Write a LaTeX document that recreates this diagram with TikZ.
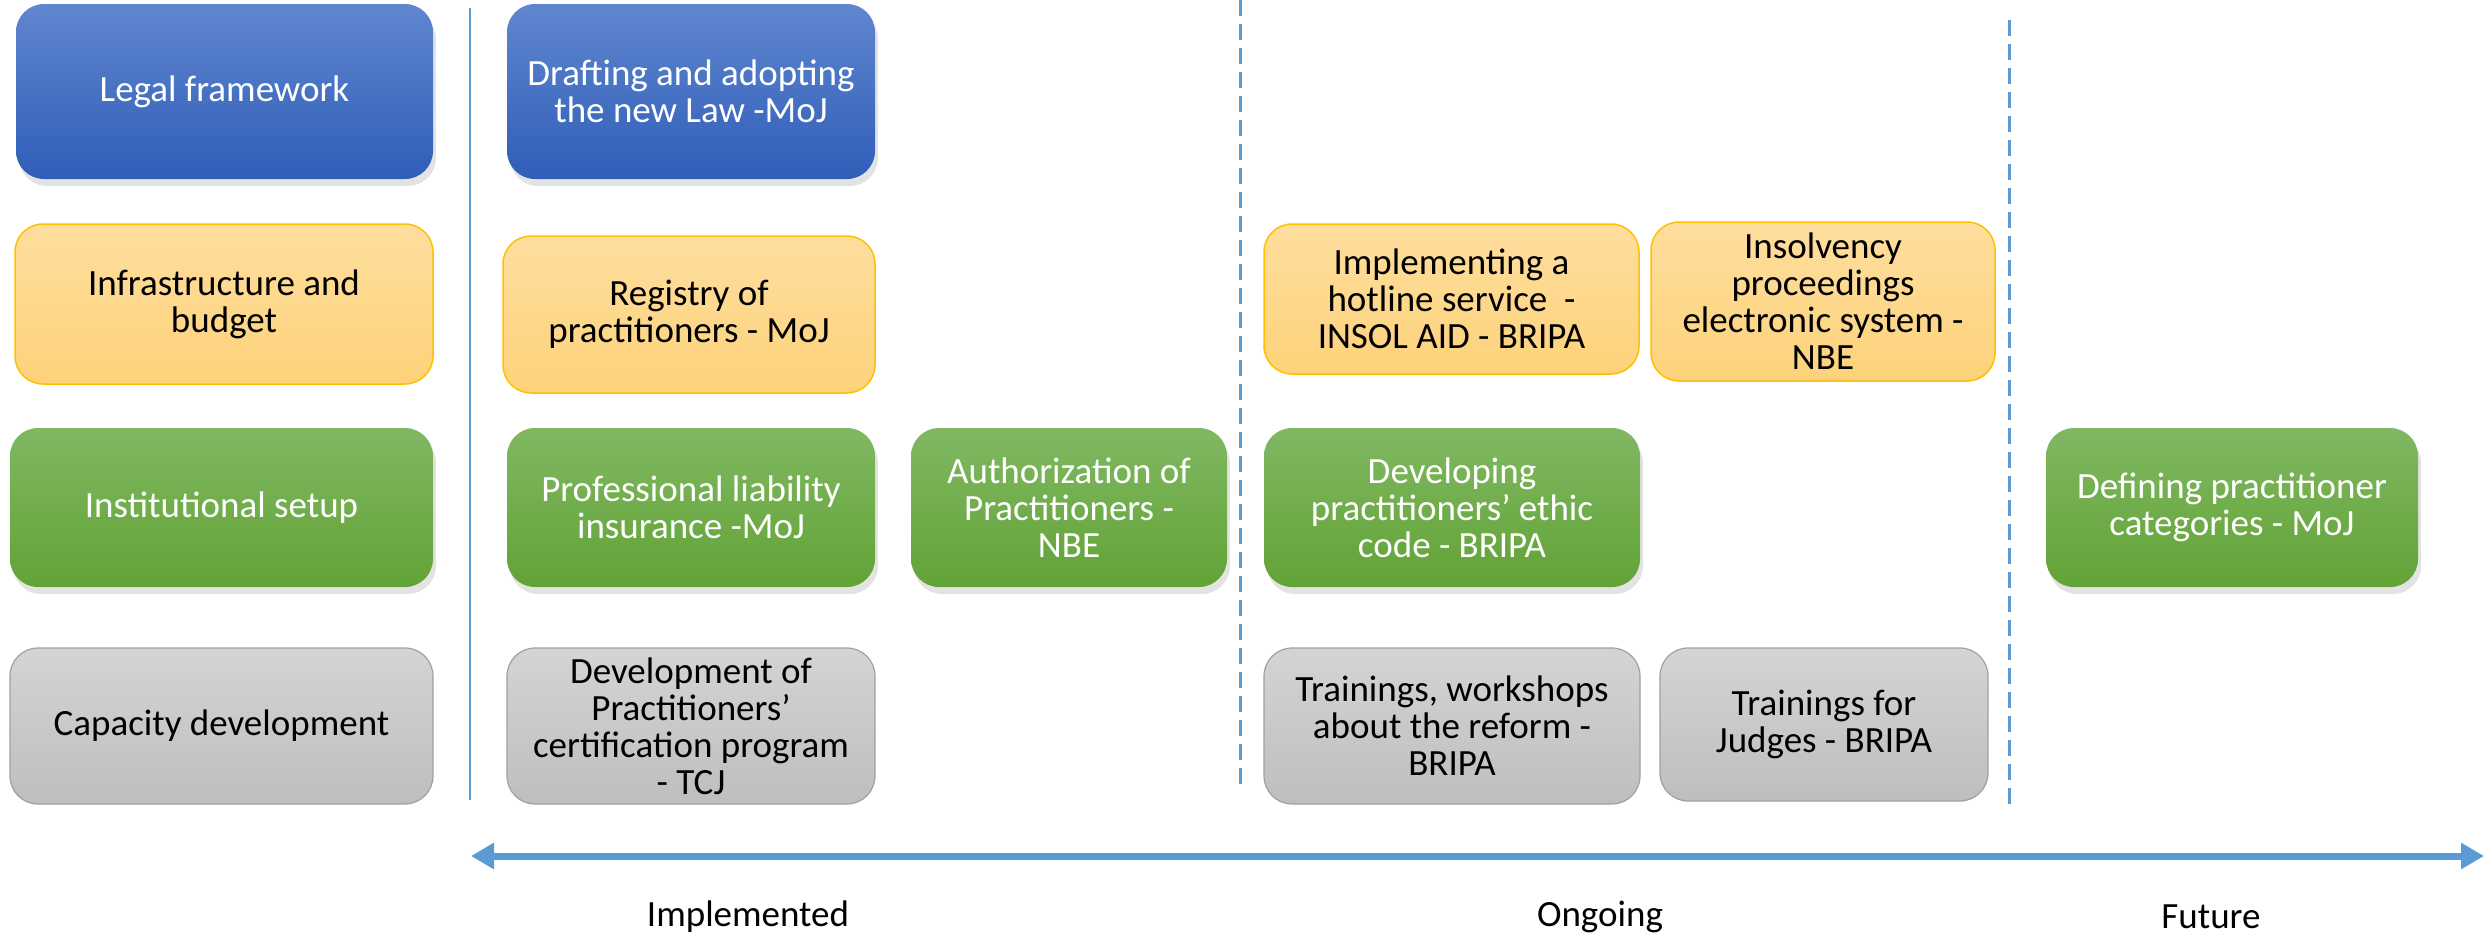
\documentclass[tikz,border=0pt]{standalone}
\usepackage{fontspec}
\setmainfont{Carlito}
\usetikzlibrary{shadows,arrows.meta}
\definecolor{bluetop}{HTML}{6086CF}
\definecolor{bluebot}{HTML}{2F5EB8}
\definecolor{orgtop}{HTML}{FEDE9E}
\definecolor{orgbot}{HTML}{FDD27A}
\definecolor{orgline}{HTML}{FFC000}
\definecolor{grntop}{HTML}{80B862}
\definecolor{grnbot}{HTML}{62A336}
\definecolor{grytop}{HTML}{D4D4D4}
\definecolor{grybot}{HTML}{BEBEBE}
\definecolor{gryline}{HTML}{A0A0A0}
\definecolor{axis}{HTML}{5B9BD5}
\tikzset{
  card/.style={rounded corners=28pt, align=center, inner sep=0pt,
    font=\fontsize{37}{37}\selectfont},
  bluebox/.style={card, top color=bluetop, bottom color=bluebot, text=white,
    drop shadow={shadow xshift=3pt, shadow yshift=-7pt, opacity=0.22}},
  grnbox/.style={card, top color=grntop, bottom color=grnbot, text=white,
    drop shadow={shadow xshift=3pt, shadow yshift=-7pt, opacity=0.22}},
  orgbox/.style={card, top color=orgtop, bottom color=orgbot, draw=orgline, line width=1.5pt, text=black},
  grybox/.style={card, top color=grytop, bottom color=grybot, draw=gryline, line width=1.2pt, text=black},
  phase/.style={font=\fontsize{37}{37}\selectfont, text=black},
}
\newcommand{\card}[7]{% style, name, left, top, right, bottom, text
  \node[#1, minimum width={#5-#3}, minimum height={#6-#4}] (#2) at ({(#3+#5)/2},{(#4+#6)/2}) {#7};}
\begin{document}
\begin{tikzpicture}[x=1pt,y=-1pt]
\useasboundingbox (0,0) rectangle (2489,937);
% separators
\coordinate (s1t) at (470,8);   \coordinate (s1b) at (470,800);
\coordinate (d1t) at (1240,0);  \coordinate (d1b) at (1240,790);
\coordinate (d2t) at (2009,20); \coordinate (d2b) at (2009,807);
\draw[axis, line width=2pt] (s1t) -- (s1b);
\draw[axis, line width=3pt, dash pattern=on 16pt off 8pt] (d1t) -- (d1b);
\draw[axis, line width=3pt, dash pattern=on 16pt off 8pt] (d2t) -- (d2b);
% row 1
\card{bluebox}{legal}{16}{4}{433}{179}{Legal framework}
\card{bluebox}{draft}{507}{4}{875}{179}{Drafting and adopting\\the new Law -MoJ}
% row 2
\card{orgbox}{infra}{15}{224}{433}{384}{Infrastructure and\\budget}
\card{orgbox}{registry}{503}{236}{875}{393}{Registry of\\practitioners - MoJ}
\card{orgbox}{hotline}{1264}{224}{1639}{374}{Implementing a\\hotline service~~-\\INSOL AID - BRIPA}
\card{orgbox}{insolv}{1651}{222}{1995}{381}{Insolvency\\proceedings\\electronic system -\\NBE}
% row 3
\card{grnbox}{inst}{10}{428}{433}{587}{Institutional setup}
\card{grnbox}{prof}{507}{428}{875}{587}{Professional liability\\insurance -MoJ}
\card{grnbox}{auth}{911}{428}{1227}{587}{Authorization of\\Practitioners -\\NBE}
\card{grnbox}{ethic}{1264}{428}{1640}{587}{Developing\\practitioners’ ethic\\code - BRIPA}
\card{grnbox}{defin}{2046}{428}{2418}{587}{Defining practitioner\\categories - MoJ}
% row 4
\card{grybox}{capac}{10}{648}{433}{804}{Capacity development}
\card{grybox}{devel}{507}{648}{875}{804}{Development of\\Practitioners’\\certification program\\- TCJ}
\card{grybox}{train}{1264}{648}{1640}{804}{Trainings, workshops\\about the reform -\\BRIPA}
\card{grybox}{judges}{1660}{648}{1988}{801}{Trainings for\\Judges - BRIPA}
% time axis
\coordinate (al) at (471,856);
\coordinate (ar) at (2484,856);
\draw[axis, line width=7pt, {Triangle[length=23pt,width=25pt]}-{Triangle[length=23pt,width=25pt]}] (al) -- (ar);
\node[phase] (impl) at (748,917) {Implemented};
\node[phase] (ongo) at (1600,917) {Ongoing};
\node[phase] (futu) at (2211,917) {Future};
\end{tikzpicture}
\end{document}
